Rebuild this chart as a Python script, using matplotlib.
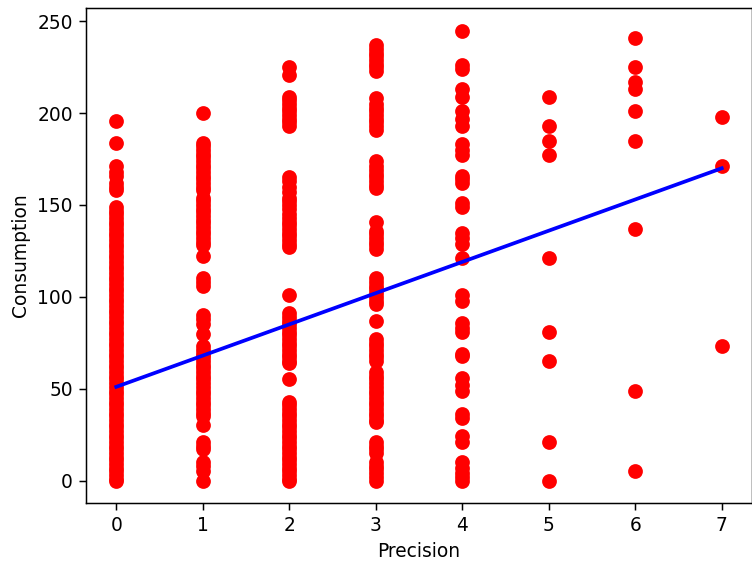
import matplotlib
matplotlib.use("Agg")
import matplotlib.pyplot as plt
import numpy as np

cons_p0 = [196, 184, 171, 168, 166, 162, 160, 158, 149, 147, 145, 143, 141, 139,
           137, 135, 133, 131, 129, 127, 125, 123, 121, 119, 117, 115, 113, 111,
           109, 107, 105, 103, 101, 99, 97, 95, 93, 91, 89, 87, 85, 83, 81, 79,
           77, 75, 73, 71, 69, 67, 65, 63, 61, 59, 57, 55, 53, 51, 49, 47, 45,
           43, 41, 39, 37, 35, 33, 31, 29, 27, 25, 23, 21, 19, 17, 15, 13, 11,
           9, 7, 5, 3, 1, 0]
cons_p1 = [200, 184, 182, 180, 178, 176, 174, 172, 170, 168, 166, 164, 162, 160,
           158, 154, 152, 150, 148, 146, 144, 142, 140, 138, 136, 134, 132, 130,
           128, 122, 110, 108, 106, 90, 88, 85, 80, 73, 71, 69, 67, 65, 63, 61,
           59, 57, 55, 53, 51, 49, 47, 45, 43, 41, 39, 37, 35, 30, 21, 19, 17,
           10, 8, 5, 0]
cons_p2 = [225, 221, 209, 207, 205, 203, 201, 199, 197, 195, 193, 165, 163, 160,
           157, 154, 152, 150, 148, 145, 143, 141, 139, 137, 135, 133, 131, 129,
           127, 101, 91, 89, 87, 85, 83, 81, 79, 77, 75, 73, 71, 69, 67, 65, 64,
           55, 43, 41, 39, 37, 35, 33, 31, 29, 27, 25, 23, 21, 19, 17, 15, 13,
           11, 9, 7, 5, 3, 1, 0]
cons_p3 = [237, 235, 233, 231, 229, 227, 225, 223, 208, 205, 203, 201, 199, 197,
           195, 193, 191, 174, 171, 169, 167, 165, 163, 161, 159, 141, 136, 134,
           132, 130, 128, 126, 110, 108, 106, 104, 102, 100, 98, 96, 87, 77, 75,
           73, 71, 69, 67, 65, 59, 57, 55, 53, 51, 49, 47, 45, 43, 41, 39, 37,
           35, 33, 32, 21, 19, 17, 15, 10, 8, 6, 4, 2, 0]
cons_p4 = [245, 226, 224, 213, 209, 201, 197, 193, 183, 180, 177, 166, 164, 162,
           151, 149, 135, 132, 129, 121, 101, 98, 86, 83, 81, 69, 68, 56, 52, 49,
           36, 34, 24, 21, 10, 7, 4, 2, 0]
cons_p5 = [209, 193, 185, 177, 121, 81, 65, 21, 0]
cons_p6 = [241, 225, 217, 213, 201, 185, 137, 49, 5]
cons_p7 = [198, 171, 73]

columns = [cons_p0, cons_p1, cons_p2, cons_p3, cons_p4, cons_p5, cons_p6, cons_p7]
precision = np.concatenate([[i] * len(c) for i, c in enumerate(columns)])
consumption = np.concatenate(columns)

# linear regression line as shown in the chart
fit_intercept = 51.0
fit_slope = 17.0

fig = plt.figure(figsize=(752 / 134, 571 / 134), dpi=134)
ax = fig.add_axes([86 / 752, 1 - 503 / 571, 666 / 752, 495 / 571])

ax.scatter(precision, consumption, color='red', s=48)
ax.plot(precision, fit_intercept + fit_slope * precision, color='blue', lw=2)

ax.set_xlabel('Precision')
ax.set_ylabel('Consumption')

fig.savefig('out.png', dpi=134)
